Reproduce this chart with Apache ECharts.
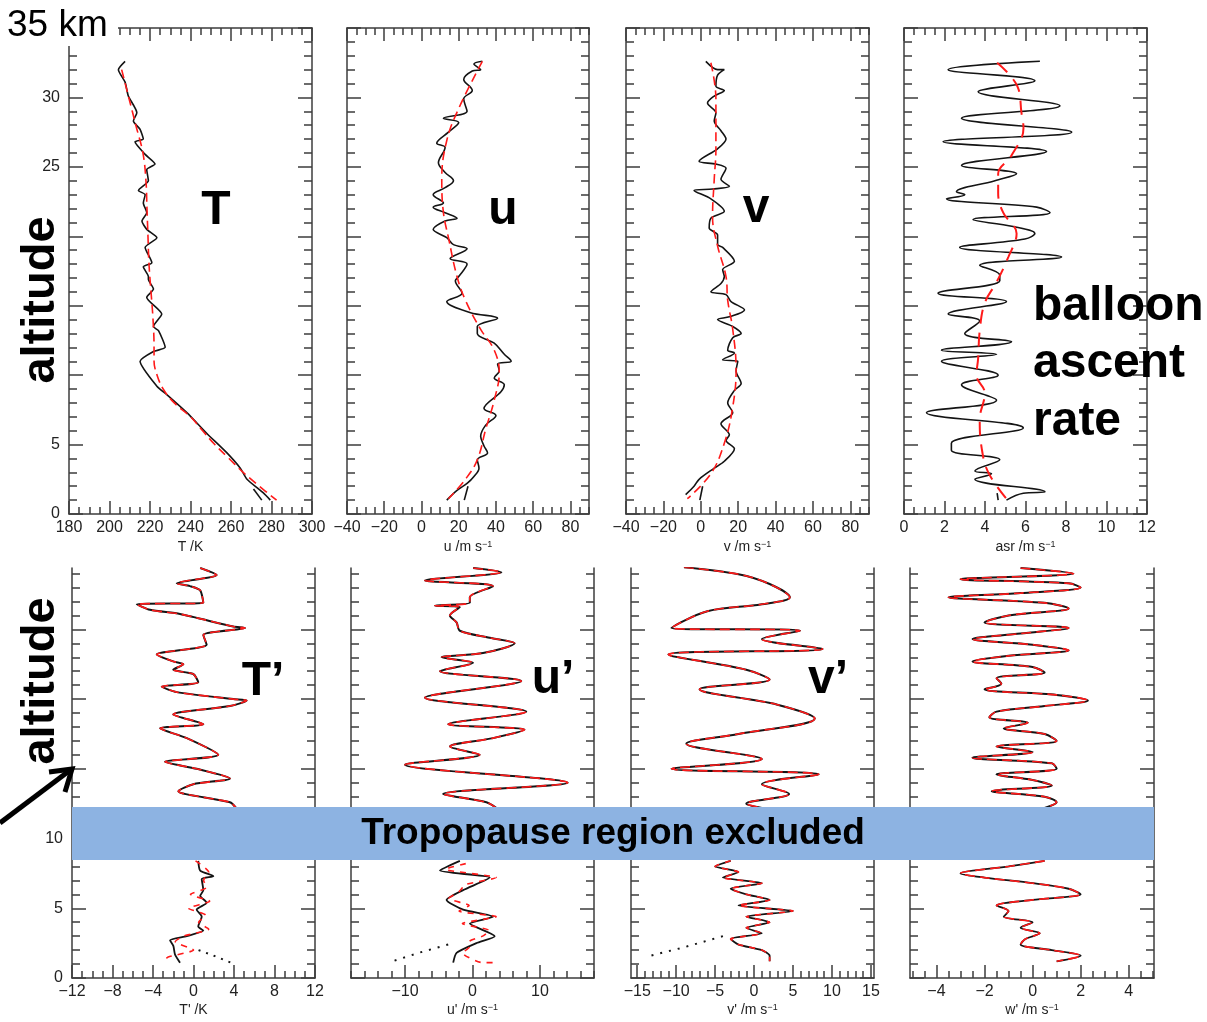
<!DOCTYPE html>
<html><head><meta charset="utf-8">
<script src="https://cdn.jsdelivr.net/npm/echarts@6/dist/echarts.min.js"></script>
<style>html,body{margin:0;padding:0;background:#fff}#c{width:1207px;height:1022px}</style>
</head><body><div id="c"></div>
<script>
// ---------------- DATA (altitude in km, values in axis units) ----------------
// Temperature T (K)
const altT = [32.6,32.0,31.1,30.1,28.9,28.3,27.7,27.0,26.8,25.9,25.2,24.8,24.0,23.3,23.0,22.4,21.7,21.1,20.5,19.9,19.2,18.1,17.8,17.1,16.9,16.2,15.6,14.4,13.5,13.2,12.0,11.7,11.0,9.2,8.6,7.3,5.8,4.4,3.3,2.5,1.5,1.0];
const valT = [207.7,204.4,207.7,209.3,213.5,211.8,215.1,216.7,212.6,217.6,222.5,218.4,219.2,214.3,217.6,216.7,218.4,216.0,218.4,223.4,217.6,220.9,216.7,219.2,219.2,221.7,218.4,225.8,221.7,224.2,227.5,221.7,215.1,223.4,228.3,238.2,248.1,258.0,264.6,267.9,276.1,279.4];
const altT2 = [1.8,1.0];
const valT2 = [271.1,275.2];
const altTfit = [32.0,30,28,26,24,22,20,18,16,14,12,11,10,9,8,7,6,5,4,3,2,1.0];
const valTfit = [206.0,209.5,213.0,216.5,218.0,218.5,219.0,219.5,220.5,221.5,222.0,222.0,223.5,226.5,232,240,246,252,259,266,274,282.5];

// Zonal wind u (m/s)
const altU = [32.6,32.4,32.0,31.9,31.3,30.5,29.9,29.0,28.5,28.2,27.5,26.7,26.4,25.3,24.6,24.0,23.5,23.0,22.4,22.1,21.7,21.3,21.1,20.5,19.9,19.4,19.1,18.4,18.0,17.1,16.8,15.9,15.3,14.5,14.1,13.5,13.0,12.3,11.5,11.0,10.8,10.3,9.8,9.3,8.8,7.6,7.1,6.4,5.6,4.9,4.4,3.9,3.3,2.7,2.2,1.7,1.0];
const valU = [32.7,28.2,31.8,27.3,22.7,27.3,22.7,24.5,11.8,20.0,14.5,8.2,12.7,9.1,12.7,17.2,12.7,6.3,11.8,6.3,12.7,19.1,12.7,6.3,13.6,17.2,24.5,15.4,24.5,20.0,18.2,21.8,13.6,26.4,40.9,30.0,30.0,39.1,44.5,48.2,40.9,41.8,39.1,44.5,42.7,33.6,40.0,34.5,31.8,33.6,35.5,30.0,30.9,28.2,24.5,19.1,13.6];
const altU2 = [2.0,1.0];
const valU2 = [25.0,23.0];
const altUfit = [32.6,29.2,26.9,24.1,21.7,19.9,17.1,15.4,13.3,11.8,10.2,8.2,6.1,3.9,2.5,1.1];
const valUfit = [32.7,20.0,13.6,10.9,11.8,14.5,19.1,23.6,31.8,39.1,41.8,39.1,34.5,30.0,23.6,14.5];

// Meridional wind v (m/s)
const altV = [32.6,32.0,32.0,31.6,30.8,30.5,30.1,29.6,28.9,28.3,27.6,27.0,26.3,25.4,25.2,24.9,24.1,23.6,23.4,23.3,22.7,21.8,21.3,20.6,20.1,19.4,19.2,18.2,17.6,17.1,16.6,16.0,15.8,15.3,14.7,14.2,14.0,13.5,13.0,12.7,11.8,11.6,11.1,11.0,10.3,9.4,8.9,8.0,7.3,6.5,5.7,5.3,4.7,3.8,3.3,2.5,2.0,1.4];
const valV = [2.7,9.0,12.6,9.0,8.1,12.6,7.2,3.6,8.1,7.2,10.8,13.5,9.0,-0.9,8.1,13.5,10.8,15.3,6.3,-3.6,5.4,12.6,5.4,4.5,9.0,9.0,11.7,18.0,11.7,12.6,10.8,5.4,13.5,16.2,23.4,15.3,9.0,17.1,21.6,17.1,14.4,18.0,11.7,19.8,18.9,21.6,18.0,14.4,17.1,10.8,15.3,13.5,18.0,12.6,7.2,-0.9,-3.6,-8.1];
const altV2 = [2.0,1.0];
const valV2 = [1.0,-0.5];
const altVfit = [32.5,29.9,26.3,24.1,21.4,19.3,17.1,15.4,13.3,10.4,7.7,5.1,2.9,1.1];
const valVfit = [5.4,8.1,8.1,7.2,6.3,9.0,13.5,14.4,17.1,18.9,17.1,12.6,5.4,-7.2];

// Balloon ascent rate (m/s)
const altA = [32.6,32.0,31.2,30.4,29.4,28.5,27.5,26.8,26.1,25.1,24.5,24.0,23.2,23.0,22.7,22.1,21.7,21.2,20.7,20.2,19.8,19.2,18.5,17.9,17.2,16.8,15.9,15.3,14.4,13.9,13.0,12.4,11.8,11.5,11.0,10.0,9.3,8.2,7.3,6.2,5.1,4.6,3.9,3.1,2.9,2.5,1.6,1.5,1.0];
const valA = [6.71,2.18,6.46,3.66,7.70,2.84,8.28,1.93,7.04,2.84,5.56,4.49,2.59,3.0,2.10,6.55,7.21,3.41,5.39,6.46,5.97,2.75,7.78,3.74,4.73,4.73,1.68,5.06,2.18,3.74,3.0,5.31,1.85,4.57,1.85,4.65,2.84,4.57,1.11,5.89,2.34,2.34,4.73,3.50,4.32,3.50,6.96,5.89,5.06];
const altA2 = [1.5,1.0];
const valA2 = [4.6,4.65];
const altAfit = [32.5,30.8,28.9,27.8,25.8,24.5,23.1,21.7,20.2,18.5,16.7,15.2,13.2,11.2,10.0,8.7,6.8,4.8,3.0,1.1];
const valAfit = [4.6,5.6,5.8,5.9,5.3,4.65,4.65,4.9,5.56,5.15,4.57,3.99,3.74,3.66,3.58,3.99,3.74,3.83,4.16,5.06];

// Perturbations: T' (K)
const altTp = [29.4,28.9,28.3,28.1,27.8,26.9,26.8,26.4,26.1,25.2,25.1,24.6,23.9,23.2,22.7,22.5,22.1,21.8,21.2,20.9,20.5,20.0,19.9,19.5,18.9,18.2,17.9,17.2,16.0,15.5,15.0,14.3,13.9,13.4,12.6,12.2];
const valTp = [0.66,2.29,-1.66,-0.35,0.66,0.97,-5.6,-4.30,-1.33,3.93,5.09,0.97,1.30,-3.63,-2.0,-1.0,-2.0,-0.02,0.47,-3.14,-1.66,3.93,5.25,3.60,-2.0,0.97,-3.3,-0.67,2.45,-2.81,0.31,3.60,-0.02,-1.5,3.60,4.2];
const altTpLo = [8.4,7.7,7.3,7.1,6.3,5.9,5.4,4.9,4.4,3.7,3.4,3.0,2.7,2.3,1.7,1.1];
const valTpLo = [0.47,0.66,1.96,0.81,0.97,0.66,1.30,0.31,0.81,0.47,0.97,-0.67,-2.32,-1.99,-1.83,-1.33];
const altTpLoR = [8.4,7.6,7.0,6.5,6.0,5.5,5.0,4.5,4.0,3.5,3.0,2.6,2.0,1.5,1.1];
const valTpLoR = [0.2,1.5,1.0,1.3,-0.3,1.6,-0.5,1.2,0.5,1.5,-1.0,-1.8,0.0,-2.5,-3.1];
const altTpDot = [2.0,1.6,1.1];
const valTpDot = [0.5,2.0,3.7];

// u' (m/s)
const altUp = [29.4,29.1,28.5,28.1,27.3,26.9,26.7,26.6,26.0,25.5,24.9,24.4,24.0,23.3,23.0,22.6,22.0,21.3,20.1,19.1,18.2,17.8,17.2,16.6,16.0,15.3,14.0,13.2,12.6,12.2];
const valUp = [0.09,4.28,-7.04,3.04,-0.4,-0.4,-5.56,-1.87,-3.35,-2.36,-1.87,2.55,6.24,1.56,-4.57,0.09,-4.82,7.23,-7.04,7.96,-3.60,7.71,3.04,-3.35,1.08,-9.99,14.1,-4.34,2.06,3.5];
const altUpLo = [8.4,7.7,7.2,6.3,5.6,4.9,4.4,3.9,3.0,2.5,1.8,1.1];
const valUpLo = [-1.87,-4.82,2.55,-1.39,-3.84,-1.39,3.04,-0.4,3.29,0.59,-2.36,-2.86];
const altUpLoR = [8.2,7.8,7.2,6.7,6.2,5.7,5.2,4.8,4.4,3.9,3.4,3.0,2.6,2.2,1.8,1.1,1.1];
const valUpLoR = [-1.0,-4.0,3.5,-1.0,-2.0,-3.5,-0.5,-2.0,3.5,-1.5,2.5,1.5,-0.5,-0.5,-1.5,1.5,3.2];
const altUpDot = [2.4,1.8,1.1];
const valUpDot = [-3.6,-8.0,-12.5];

// v' (m/s)
const altVp = [29.45,28.95,28.25,27.3,26.8,26.3,25.1,24.9,24.3,23.6,23.2,22.1,21.4,20.7,19.6,18.6,17.5,16.8,15.7,15.0,14.6,13.9,13.2,12.5,12.2];
const valVp = [-9,-2,2,4.6,1,-6,-10.6,5.9,1,8.8,-11,-1,2,-7,3,7.8,-2,-8.7,1,-10.6,8.3,1,4.5,-1,1];
const altVpLo = [8.4,8.0,7.6,7.2,6.8,6.4,6.0,5.6,5.2,4.8,4.4,4.0,3.6,3.2,2.8,2.4,2.0,1.6,1.2];
const valVpLo = [-3,-5,-2,-4,1,-3,-1,2,-2,5,-1,2,-1,1,-3,-2,1,2,2];
const altVpDot = [3.0,2.2,1.5];
const valVpDot = [-4,-9,-14];

// w' (m/s)
const altWp = [29.4,29.0,28.6,28.3,28.0,27.6,27.3,26.9,26.5,26.0,25.5,25.1,24.7,24.3,23.9,23.5,23.1,22.7,22.3,21.9,21.5,21.1,20.7,20.3,19.9,19.5,19.1,18.7,18.3,17.9,17.5,17.0,16.6,16.2,15.8,15.4,15.0,14.6,14.2,13.8,13.4,13.0,12.6,12.2];
const valWp = [-0.5,1.7,-3.0,1.5,2.0,-0.5,-3.5,0.5,1.5,-1,-2,1.5,-0.5,-2.5,0,1.5,-1,-2.5,0,0.5,-1.5,-1.3,-2,1.0,2.3,0.5,-1.5,-1.8,-0.2,-1.2,0.5,1.0,-1.5,0,-2.5,0.8,1.0,-1.5,0,0.8,-1.7,0.5,1.0,0.5];
const altWpLo = [8.4,8.0,7.5,7.2,6.8,6.4,6.0,5.6,5.2,4.8,4.4,4.0,3.6,3.2,2.8,2.4,2.0,1.6,1.2];
const valWpLo = [0.5,-1,-3,-2,0,1.5,2.0,0,-1.5,-1,-1.2,0,-0.5,0.3,-0.3,-0.5,0.8,2.0,1.0];

// tick labels
const ticksT = [180,200,220,240,260,280,300];
const ticksWind = [-40,-20,0,20,40,60,80];
const ticksAsr = [0,2,4,6,8,10,12];
const ticksTp = [-12,-8,-4,0,4,8,12];
const ticksUp = [-10,0,10];
const ticksVp = [-15,-10,-5,0,5,10,15];
const ticksWp = [-4,-2,0,2,4];
const ticksAltTop = [0,5,10,15,20,25,30,35];
const labelsAltTop = [0,5,10,15,20,25,30];
const ticksAltBot = [0,5,10,15,20,25];
const labelsAltBot = [0,5,10];

// ---------------- CHART ----------------
const FONT = '"Liberation Sans", Arial, Helvetica, sans-serif';
const AX = '#3c3c3c';
function steps(a,b,s){const r=[];for(let k=0;a+k*s<=b+1e-9;k++)r.push(+(a+k*s).toFixed(6));return r;}
const pairs=(xs,ys)=>xs.map((x,i)=>[x,ys[i]]);
const fmt=v=>(v<0?'\u2212'+Math.abs(v):String(v));

const panels = [
 {g:[69,28,243,486], x:[180,300], xMaj:ticksT, xMin:steps(180,300,5), name:'T /K', top:true, y:[0,35], yMaj:ticksAltTop, yMin:steps(0,35,1), yLab:labelsAltTop},
 {g:[347,28,242,486], x:[-40,90], xMaj:ticksWind, xMin:steps(-40,90,5), name:'u /m s{s|\u22121}', top:true, y:[0,35], yMaj:ticksAltTop, yMin:steps(0,35,1)},
 {g:[626,28,243,486], x:[-40,90], xMaj:ticksWind, xMin:steps(-40,90,5), name:'v /m s{s|\u22121}', top:true, y:[0,35], yMaj:ticksAltTop, yMin:steps(0,35,1)},
 {g:[904,28,243,486], x:[0,12], xMaj:ticksAsr, xMin:steps(0,12,0.5), name:'asr /m s{s|\u22121}', top:true, y:[0,35], yMaj:ticksAltTop, yMin:steps(0,35,1)},
 {g:[72,568,243,410], x:[-12,12], xMaj:ticksTp, xMin:steps(-12,12,1), name:"T' /K", top:false, y:[0,29.4], yMaj:ticksAltBot, yMin:steps(0,29,1), yLab:labelsAltBot},
 {g:[351,568,243,410], x:[-18,18], xMaj:ticksUp, xMin:steps(-18,18,2), name:"u' /m s{s|\u22121}", top:false, y:[0,29.4], yMaj:ticksAltBot, yMin:steps(0,29,1)},
 {g:[631,568,243,410], x:[-15.8,15.4], xMaj:ticksVp, xMin:steps(-15,15,1), name:"v' /m s{s|\u22121}", top:false, y:[0,29.4], yMaj:ticksAltBot, yMin:steps(0,29,1)},
 {g:[910,568,244,410], x:[-5.1,5.05], xMaj:ticksWp, xMin:steps(-5,5,0.5), name:"w' /m s{s|\u22121}", top:false, y:[0,29.4], yMaj:ticksAltBot, yMin:steps(0,29,1)},
];

const grid=[], xAxis=[], yAxis=[], XI=[], YI=[];
const ls={color:AX,width:1.5};
panels.forEach((p,i)=>{
  grid.push({left:p.g[0],top:p.g[1],width:p.g[2],height:p.g[3]});
  const bx={gridIndex:i,type:'value',min:p.x[0],max:p.x[1],splitLine:{show:false}};
  const tick=(vals,len)=>({show:true,inside:true,length:len,customValues:vals,lineStyle:ls});
  const noLine={show:false,onZero:false};
  const line={show:true,onZero:false,lineStyle:ls};
  XI.push(xAxis.length);
  xAxis.push(Object.assign({},bx,{position:'bottom',axisLine:line,
    axisTick:tick(p.xMaj,13),
    axisLabel:{show:true,customValues:p.xMaj,formatter:fmt,fontSize:16,fontFamily:FONT,color:'#222',margin:6},
    name:p.name,nameLocation:'middle',nameGap:p.top?26:25,
    nameTextStyle:{fontSize:14,fontFamily:FONT,color:'#222',rich:{s:{fontSize:9,fontFamily:FONT,color:'#222',verticalAlign:'top',padding:[0,0,6,0]}}}}));
  xAxis.push(Object.assign({},bx,{position:'bottom',axisLine:noLine,axisTick:tick(p.xMin,7),axisLabel:{show:false}}));
  if(p.top){
    xAxis.push(Object.assign({},bx,{position:'top',axisLine:line,axisTick:tick(p.xMaj,13),axisLabel:{show:false}}));
    xAxis.push(Object.assign({},bx,{position:'top',axisLine:noLine,axisTick:tick(p.xMin,7),axisLabel:{show:false}}));
  }
  const by={gridIndex:i,type:'value',min:p.y[0],max:p.y[1],splitLine:{show:false}};
  YI.push(yAxis.length);
  yAxis.push(Object.assign({},by,{position:'left',axisLine:line,axisTick:tick(p.yMaj,14),
    axisLabel:{show:!!p.yLab,customValues:p.yLab||[],fontSize:16,fontFamily:FONT,color:'#222',margin:9}}));
  yAxis.push(Object.assign({},by,{position:'left',axisLine:noLine,axisTick:tick(p.yMin,8),axisLabel:{show:false}}));
  yAxis.push(Object.assign({},by,{position:'right',axisLine:line,axisTick:tick(p.yMaj,14),axisLabel:{show:false}}));
  yAxis.push(Object.assign({},by,{position:'right',axisLine:noLine,axisTick:tick(p.yMin,8),axisLabel:{show:false}}));
});

const series=[];
function add(i,xs,ys,color,type,width,smooth){
  series.push({type:'line',xAxisIndex:XI[i],yAxisIndex:YI[i],data:pairs(xs,ys),showSymbol:false,symbol:'none',
    smooth:smooth,lineStyle:{color:color,width:width,type:type},silent:true,clip:true});
}
const BK='#141414', RD='#ff1a1a';
// top row
add(0,valT,altT,BK,'solid',1.6,0.2); add(0,valT2,altT2,BK,'solid',1.6,0); add(0,valTfit,altTfit,RD,[9,5],1.6,0.4);
add(1,valU,altU,BK,'solid',1.6,0.35); add(1,valU2,altU2,BK,'solid',1.6,0); add(1,valUfit,altUfit,RD,[9,5],1.6,0.4);
add(2,valV,altV,BK,'solid',1.6,0.3); add(2,valV2,altV2,BK,'solid',1.6,0); add(2,valVfit,altVfit,RD,[9,5],1.6,0.4);
add(3,valA,altA,BK,'solid',1.6,0.4); add(3,valA2,altA2,BK,'solid',1.6,0); add(3,valAfit,altAfit,RD,[14,9],2,0.4);
// bottom row
add(4,valTp,altTp,BK,'solid',2,0.25); add(4,valTp,altTp,RD,[10,5],1.6,0.25);
add(4,valTpLo,altTpLo,BK,'solid',1.8,0.2); add(4,valTpLoR,altTpLoR,RD,[6,6],1.6,0.2); add(4,valTpDot,altTpDot,BK,[2,6],2,0);
add(5,valUp,altUp,BK,'solid',2,0.3); add(5,valUp,altUp,RD,[10,5],1.6,0.3);
add(5,valUpLo,altUpLo,BK,'solid',1.8,0.2); add(5,valUpLoR,altUpLoR,RD,[6,6],1.6,0.2); add(5,valUpDot,altUpDot,BK,[2,7],2,0);
add(6,valVp,altVp,BK,'solid',2,0.35); add(6,valVp,altVp,RD,[10,5],1.6,0.35);
add(6,valVpLo,altVpLo,BK,'solid',1.8,0.2); add(6,valVpLo,altVpLo,RD,[6,6],1.6,0.2); add(6,valVpDot,altVpDot,BK,[2,7],2,0);
add(7,valWp,altWp,BK,'solid',2,0.35); add(7,valWp,altWp,RD,[10,5],1.6,0.35);
add(7,valWpLo,altWpLo,BK,'solid',1.8,0.3); add(7,valWpLo,altWpLo,RD,[10,5],1.6,0.3);

const BIG='bold 48px '+FONT;
const D=9;
const graphic=[
  {type:'rect',shape:{x:0,y:0,width:118,height:46},style:{fill:'#fff'},z:100},
  {type:'text',x:7,y:26,style:{text:'35 km',font:'normal 37px '+FONT,fill:'#000',textVerticalAlign:'middle'},z:101},
  {type:'rect',shape:{x:16,y:208,width:49,height:184},style:{fill:'#fff'},z:100},
  {type:'text',x:41,y:300,rotation:Math.PI/2,style:{text:'altitude',font:'bold 47px '+FONT,fill:'#000',textAlign:'center',textVerticalAlign:'middle'},z:101},
  {type:'rect',shape:{x:16,y:588,width:49,height:186},style:{fill:'#fff'},z:100},
  {type:'text',x:41,y:681,rotation:Math.PI/2,style:{text:'altitude',font:'bold 47px '+FONT,fill:'#000',textAlign:'center',textVerticalAlign:'middle'},z:101},
  {type:'text',x:216,y:226+D,style:{text:'T',font:BIG,fill:'#000',textAlign:'center',textVerticalAlign:'bottom'},z:101},
  {type:'text',x:503,y:226+D,style:{text:'u',font:BIG,fill:'#000',textAlign:'center',textVerticalAlign:'bottom'},z:101},
  {type:'text',x:756,y:224+D,style:{text:'v',font:BIG,fill:'#000',textAlign:'center',textVerticalAlign:'bottom'},z:101},
  {type:'text',x:1033,y:322+D,style:{text:'balloon',font:BIG,fill:'#000',textAlign:'left',textVerticalAlign:'bottom'},z:101},
  {type:'text',x:1033,y:379+D,style:{text:'ascent',font:BIG,fill:'#000',textAlign:'left',textVerticalAlign:'bottom'},z:101},
  {type:'text',x:1033,y:437+D,style:{text:'rate',font:BIG,fill:'#000',textAlign:'left',textVerticalAlign:'bottom'},z:101},
  {type:'text',x:263,y:697+D,style:{text:'T\u2019',font:BIG,fill:'#000',textAlign:'center',textVerticalAlign:'bottom'},z:101},
  {type:'text',x:553,y:695+D,style:{text:'u\u2019',font:BIG,fill:'#000',textAlign:'center',textVerticalAlign:'bottom'},z:101},
  {type:'text',x:828,y:695+D,style:{text:'v\u2019',font:BIG,fill:'#000',textAlign:'center',textVerticalAlign:'bottom'},z:101},
  {type:'rect',shape:{x:72,y:807,width:1082,height:53},style:{fill:'#8db3e2'},z:100},
  {type:'text',x:613,y:834,style:{text:'Tropopause region excluded',font:'bold 37px '+FONT,fill:'#000',textAlign:'center',textVerticalAlign:'middle'},z:101},
  {type:'polyline',shape:{points:[[0,823],[69,771]]},style:{stroke:'#000',lineWidth:5,fill:null},z:102},
  {type:'polyline',shape:{points:[[49,772],[72,769],[65,792]]},style:{stroke:'#000',lineWidth:5,fill:null,lineJoin:'miter'},z:102}
];

const chart=echarts.init(document.getElementById('c'),null,{renderer:'canvas'});
chart.setOption({animation:false,backgroundColor:'#fff',grid,xAxis,yAxis,series,graphic});
</script></body></html>
